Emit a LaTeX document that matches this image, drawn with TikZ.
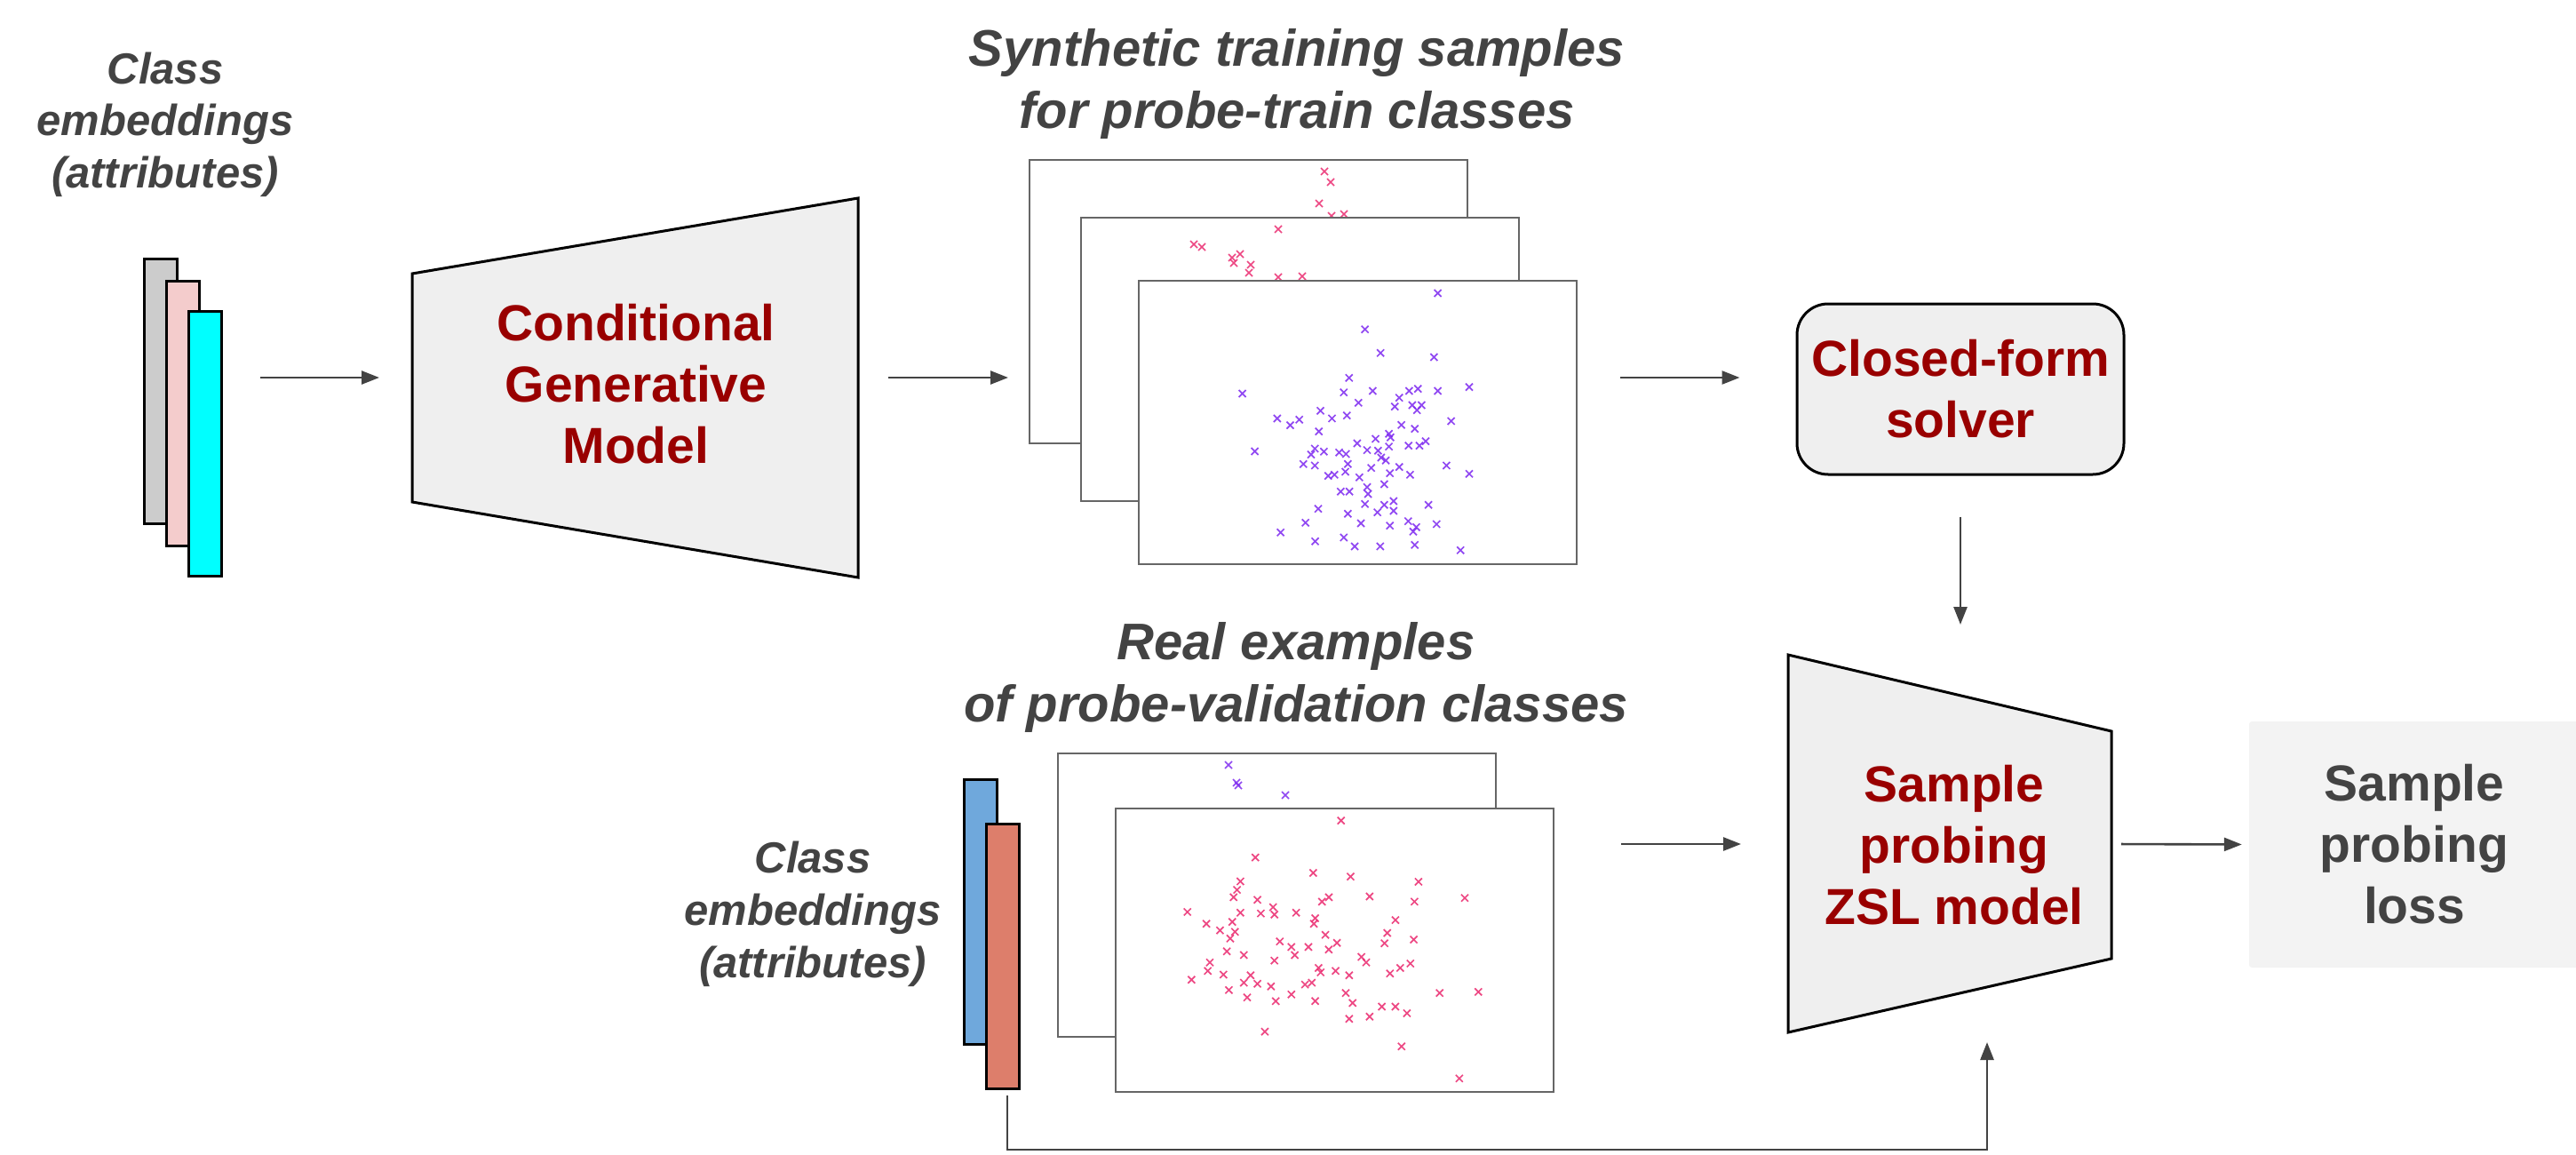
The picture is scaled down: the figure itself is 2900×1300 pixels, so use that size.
\documentclass[tikz,border=0pt]{standalone}
\usepackage{fontspec}
\setmainfont{Liberation Sans}
\usetikzlibrary{arrows.meta}
\definecolor{txtgray}{HTML}{434343}
\definecolor{darkred}{HTML}{990000}
\definecolor{boxfill}{HTML}{EFEFEF}
\definecolor{lossfill}{HTML}{F3F3F3}
\definecolor{framegray}{HTML}{666666}
\definecolor{barGray}{HTML}{CCCCCC}
\definecolor{barPink}{HTML}{F4CCCC}
\definecolor{barCyan}{HTML}{00FFFF}
\definecolor{barBlue}{HTML}{6FA8DC}
\definecolor{barOrange}{HTML}{DD7E6B}
\definecolor{ptPurple}{RGB}{125,40,240}
\definecolor{ptPink}{RGB}{235,40,110}
\begin{document}
\begin{tikzpicture}[x=1pt,y=-1pt,
  arr/.style={draw=txtgray, line width=2.6pt, -{Triangle[length=20pt,width=15pt]}},
  bar/.style={draw=black, line width=3pt, inner sep=0pt, minimum width=37pt, anchor=north west},
  frame/.style={draw=framegray, fill=white, line width=2.2pt, inner sep=0pt, minimum width=493pt, minimum height=319pt, anchor=north west},
  model/.style={draw=black, line width=3pt, fill=boxfill, line join=miter},
  labelit/.style={font=\fontsize{49}{59}\selectfont\bfseries\itshape, text=txtgray, align=center, anchor=base},
  titleit/.style={font=\fontsize{58}{70}\selectfont\bfseries\itshape, text=txtgray, align=center, anchor=base},
  redtxt/.style={font=\fontsize{57}{69}\selectfont\bfseries, text=darkred, align=center},
  mkpurple/.style={draw=ptPurple, line width=1.7pt, draw opacity=0.85},
  mkpink/.style={draw=ptPink, line width=1.7pt, draw opacity=0.85}
]
\useasboundingbox (0,0) rectangle (2900,1300);

% ---------- top-left class embeddings ----------
\node[labelit] (tl) at (186,212) {Class\\embeddings\\(attributes)};
\node[bar, fill=barGray, minimum height=298pt] (b1) at (161,290) {};
\node[bar, fill=barPink, minimum height=298pt] (b2) at (186,315) {};
\node[bar, fill=barCyan, minimum height=298pt] (b3) at (211,349) {};

% ---------- conditional generative model ----------
\draw[model] (464,308) -- (966,223) -- (966,650) -- (464,565) -- cycle;
\coordinate (cgmW) at (464,425);
\coordinate (cgmE) at (966,425);
\node[redtxt] (cgm) at (716,432) {Conditional\\Generative\\Model};

% ---------- synthetic samples ----------
\node[titleit] (syntitle) at (1460,145) {Synthetic training samples\\for probe-train classes};
\node[frame] (synback) at (1158,179) {};
\foreach \a/\b in {1491/193,1498/205,1485/229,1499/243,1513/241}
  \draw[mkpink] (\a,\b) +(-4pt,-4pt) -- +(4pt,4pt) +(-4pt,4pt) -- +(4pt,-4pt);
\node[frame] (synmid) at (1216,244) {};
\foreach \a/\b in {1439/258,1344/275,1353/278,1387/290,1396/286,1389/296,1408/298,1406/307,1439/312,1466/311}
  \draw[mkpink] (\a,\b) +(-4pt,-4pt) -- +(4pt,4pt) +(-4pt,4pt) -- +(4pt,-4pt);
\node[frame] (synfront) at (1281,315) {};
\begin{scope}[xshift=1250pt, yshift=-280pt, x=0.3504pt, y=-0.3333pt]
\foreach \a/\b in {1052/150,818/272,868/352,1040/366,767/436,424/489,750/485,843/480,960/480,988/473,1052/480,1153/467,928/503,797/520,914/533,970/528,1000/528,985/545,675/547,536/573,578/596,607/577,712/573,760/563,1095/582,935/595,978/608,670/617,895/625,900/637,852/642,793/657,1013/650,958/665,993/665,464/684,657/675,645/695,686/685,735/688,757/693,825/680,860/682,895/668,870/705,885/715,620/727,657/732,763/727,838/740,928/737,1080/732,1153/760,963/763,898/758,700/767,720/763,755/753,800/772,880/795,825/805,828/828,740/820,768/820,1022/865,910/852,818/862,880/865,910/885,858/890,668/878,763/895,627/925,805/927,898/935,957/920,983/940,973/955,1048/930,547/958,658/988,750/975,785/1005,867/1005,978/1000,1125/1018}
  \draw[mkpurple] (\a,\b) +(-4pt,-4pt) -- +(4pt,4pt) +(-4pt,4pt) -- +(4pt,-4pt);
\end{scope}

% ---------- closed-form solver ----------
\node[draw=black, line width=3pt, fill=boxfill, rounded corners=35pt, minimum width=368pt, minimum height=192pt, inner sep=0pt, redtxt] (solver) at (2207,438) {Closed-form\\solver};

% ---------- sample probing ZSL model ----------
\draw[model] (2013,737) -- (2377,823) -- (2377,1079) -- (2013,1162) -- cycle;
\coordinate (zslW) at (2013,950);
\coordinate (zslE) at (2377,950);
\coordinate (zslN) at (2207,783);
\coordinate (zslS) at (2237,1111);
\node[redtxt] (zsl) at (2200,951) {Sample\\probing\\ZSL model};

% ---------- loss ----------
\node[fill=lossfill, rounded corners=3pt, minimum width=372pt, minimum height=277pt, inner sep=0pt, font=\fontsize{57}{69}\selectfont\bfseries, text=txtgray, align=center] (loss) at (2718,950.5) {Sample\\probing\\loss};

% ---------- real examples ----------
\node[titleit] (realtitle) at (1459,812) {Real examples\\of probe-validation classes};
\node[labelit] (bl) at (915,1100) {Class\\embeddings\\(attributes)};
\node[bar, fill=barBlue, minimum height=298pt] (b4) at (1084,876) {};
\node[bar, fill=barOrange, minimum height=298pt] (b5) at (1109,926) {};
\node[frame] (realback) at (1190,847) {};
\foreach \a/\b in {1383/861,1394/884,1392/881,1447/895}
  \draw[mkpurple] (\a,\b) +(-4pt,-4pt) -- +(4pt,4pt) +(-4pt,4pt) -- +(4pt,-4pt);
\node[frame] (realfront) at (1255,909) {};
\begin{scope}[xshift=700pt, yshift=-650pt, x=0.7653pt, y=-0.4146pt]
\foreach \a/\b in {1058/660,932/760,1017/802,1072/812,1172/826,910/825,905/848,900/868,935/875,1030/880,1040/868,1100/866,1166/880,1240/870,832/908,910/910,940/912,958/895,960/915,992/910,1020/925,1018/940,860/940,880/958,898/935,902/962,895/980,1138/930,1126/965,1122/993,1165/983,968/988,985/1003,1010/1003,1035/970,1052/992,1040/1010,890/1015,915/1025,990/1025,1088/1030,1095/1045,865/1045,862/1068,960/1040,1025/1060,1028/1072,1050/1068,1070/1080,1130/1075,1145/1060,1160/1048,838/1092,885/1078,925/1080,915/1100,935/1103,955/1110,1005/1105,1015/1100,893/1120,920/1140,962/1150,985/1132,1020/1150,1065/1128,1075/1155,1118/1165,1138/1165,1155/1183,1203/1128,1260/1125,1070/1198,1100/1192,946/1233,1147/1273,1232/1360}
  \draw[mkpink] (\a,\b) +(-4pt,-4pt) -- +(4pt,4pt) +(-4pt,4pt) -- +(4pt,-4pt);
\end{scope}

% ---------- connectors ----------
\draw[arr, shorten <=42pt, shorten >=37pt] (b3.east |- cgmW) -- (cgmW);
\draw[arr, shorten <=34pt, shorten >=23pt] (cgmE) -- (synback.west |- cgmE);
\draw[arr, shorten <=48pt, shorten >=63pt] (synfront.east |- cgmE) -- (solver.west |- cgmE);
\draw[arr, shorten <=46pt, shorten >=80pt] (solver.south) -- (zslN);
\draw[arr, shorten <=75pt, shorten >=53pt] (realfront.east |- zslW) -- (zslW);
\draw[arr, shorten <=11pt, shorten >=8pt] (zslE) -- (loss.west);
\draw[arr, shorten <=6pt, shorten >=62pt] ([xshift=5pt]b5.south) -- ++(0,67) -| (zslS);
\end{tikzpicture}
\end{document}
